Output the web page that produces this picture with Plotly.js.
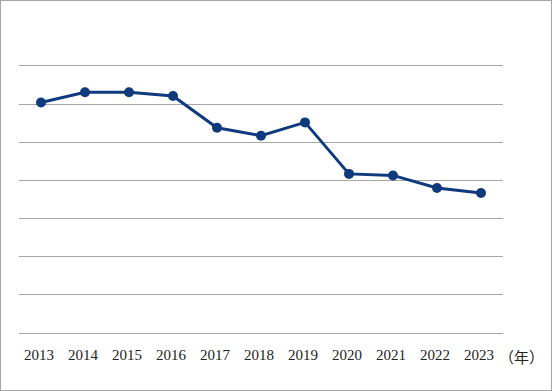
<!DOCTYPE html>
<html>
<head>
<meta charset="utf-8">
<script src="https://cdn.plot.ly/plotly-3.0.1.min.js"></script>
<style>
  html, body { margin: 0; padding: 0; background: #ffffff; }
  #chart { width: 552px; height: 391px; border: 1px solid #a6a6a6; box-sizing: border-box; }
</style>
</head>
<body>
<div id="chart"></div>
<script>
const years = ["2013", "2014", "2015", "2016", "2017", "2018", "2019", "2020", "2021", "2022", "2023"];
const values = [6.04, 6.31, 6.31, 6.21, 5.38, 5.17, 5.52, 4.17, 4.13, 3.80, 3.67];
const unitLabel = "（年）";

const trace = {
  type: "scatter",
  mode: "lines+markers",
  x: years,
  y: values,
  line: { color: "#0f3a7d", width: 3 },
  marker: { color: "#0f3a7d", size: 10 },
  cliponaxis: false,
  hoverinfo: "skip"
};

const layout = {
  width: 550,
  height: 389,
  margin: { l: 18, r: 48, t: 63, b: 57, pad: 0 },
  paper_bgcolor: "#ffffff",
  plot_bgcolor: "#ffffff",
  showlegend: false,
  xaxis: {
    type: "category",
    range: [-0.5, 10.5],
    showgrid: false,
    zeroline: false,
    showline: false,
    ticks: "",
    tickfont: { family: "'Liberation Serif', 'DejaVu Serif', serif", size: 15, color: "#222222" },
    ticklabelstandoff: 11,
    ticklabelshift: -2
  },
  yaxis: {
    range: [0, 7.05],
    dtick: 1,
    tick0: 0,
    showgrid: true,
    gridcolor: "#a6a6a6",
    gridwidth: 1,
    zeroline: true,
    zerolinecolor: "#a6a6a6",
    zerolinewidth: 1,
    showline: false,
    showticklabels: false,
    ticks: ""
  },
  annotations: [{
    text: unitLabel,
    xref: "paper",
    yref: "paper",
    x: 1.039,
    y: -0.086,
    xanchor: "center",
    yanchor: "middle",
    showarrow: false,
    font: { family: "'Noto Sans CJK JP', sans-serif", size: 15, color: "#222222" }
  }]
};

Plotly.newPlot("chart", [trace], layout, { displayModeBar: false, staticPlot: true });
</script>
</body>
</html>
